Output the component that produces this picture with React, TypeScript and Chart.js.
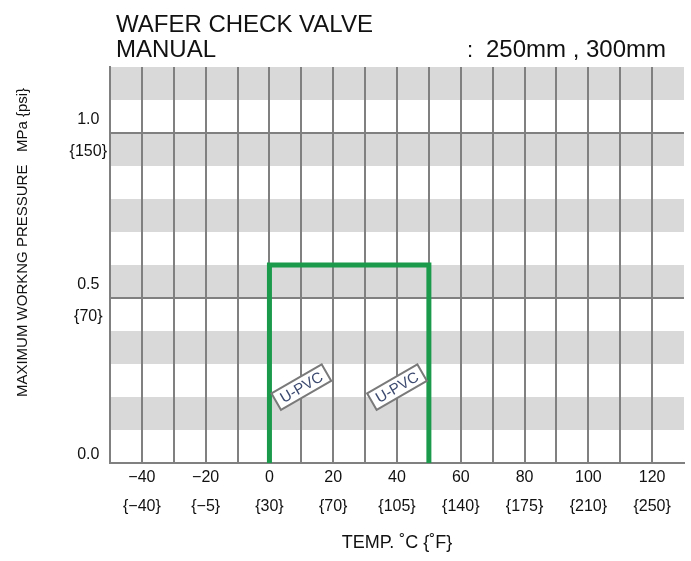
import React, { useEffect, useRef } from 'react';
import { Chart, registerables } from 'chart.js';

Chart.register(...registerables);

// ---- data ----
const tempMin = -50;
const tempMax = 130;
const tempStep = 10;
const tempTickValues = [-40, -20, 0, 20, 40, 60, 80, 100, 120];
const tempLabelsC = ['−40', '−20', '0', '20', '40', '60', '80', '100', '120'];
const tempLabelsF = ['{−40}', '{−5}', '{30}', '{70}', '{105}', '{140}', '{175}', '{210}', '{250}'];

const pressureMin = 0;
const pressureMax = 1.2;
const pressureTicks = [0, 0.5, 1.0];
const pressureLabels = ['0.0', '0.5', '1.0'];
const psiLabels = ['', '{70}', '{150}'];

const bandStarts = [0.1, 0.3, 0.5, 0.7, 0.9, 1.1];
const bandHeight = 0.1;

const envelopeTemp = [0, 0, 50, 50];
const envelopePressure = [0, 0.6, 0.6, 0];

const materialNames = ['U-PVC', 'U-PVC'];
const materialTemp = [10, 40];
const materialPressure = [0.23, 0.23];

const titleLines = ['WAFER CHECK VALVE', 'MANUAL'];
const sizeColon = ':';
const sizeText = '250mm , 300mm';
const yTitle = 'MAXIMUM WORKNG PRESSURE   MPa {psi}';
const xTitle = 'TEMP. ˚C {˚F}';

const FONT = '"Liberation Sans", Arial, sans-serif';
const GRID = '#808080';
const TEXT = '#111111';

const decorPlugin = {
  id: 'decor',
  beforeDraw(chart: any) {
    const { ctx, chartArea: a, scales } = chart;
    const y = scales.y;
    ctx.save();
    ctx.fillStyle = '#d9d9d9';
    bandStarts.forEach((b) => {
      const top = y.getPixelForValue(Math.min(b + bandHeight, pressureMax));
      const bottom = y.getPixelForValue(b);
      ctx.fillRect(a.left, top, a.right - a.left, bottom - top);
    });
    ctx.restore();
  },
  afterDatasetsDraw(chart: any) {
    const { ctx, scales } = chart;
    const xs = scales.x;
    const ys = scales.y;
    materialNames.forEach((name, i) => {
      const px = xs.getPixelForValue(materialTemp[i]);
      const py = ys.getPixelForValue(materialPressure[i]);
      ctx.save();
      ctx.translate(px, py);
      ctx.rotate(-Math.PI / 6);
      ctx.fillStyle = '#ffffff';
      ctx.fillRect(-29, -9.5, 58, 19);
      ctx.strokeStyle = '#7a7a7a';
      ctx.lineWidth = 2;
      ctx.strokeRect(-29, -9.5, 58, 19);
      ctx.fillStyle = '#3c4a70';
      ctx.font = '15px ' + FONT;
      ctx.textAlign = 'center';
      ctx.textBaseline = 'middle';
      ctx.fillText(name, 0, 1);
      ctx.restore();
    });
  },
  afterDraw(chart: any) {
    const { ctx } = chart;
    ctx.save();
    ctx.fillStyle = TEXT;
    ctx.textBaseline = 'alphabetic';
    ctx.textAlign = 'left';
    ctx.font = '24px ' + FONT;
    ctx.fillText(titleLines[0], 116, 32);
    ctx.fillText(titleLines[1], 116, 57);
    ctx.font = '22px ' + FONT;
    ctx.fillText(sizeColon, 467, 57);
    ctx.font = '24px ' + FONT;
    ctx.textAlign = 'right';
    ctx.fillText(sizeText, 666, 57);
    ctx.restore();

    ctx.save();
    ctx.translate(23, 242.5);
    ctx.rotate(-Math.PI / 2);
    ctx.fillStyle = TEXT;
    ctx.font = '15px ' + FONT;
    ctx.textAlign = 'center';
    ctx.textBaseline = 'middle';
    ctx.fillText(yTitle, 0, 0);
    ctx.restore();
  },
};

export default function App() {
  const canvasRef = useRef<HTMLCanvasElement | null>(null);

  useEffect(() => {
    const canvas = canvasRef.current;
    if (!canvas) return;
    Chart.defaults.font.family = FONT;
    const chart = new Chart(canvas, {
      type: 'scatter',
      data: {
        datasets: [
          {
            label: 'U-PVC',
            data: envelopeTemp.map((t, i) => ({ x: t, y: envelopePressure[i] })),
            showLine: true,
            borderColor: '#1b9a4b',
            backgroundColor: '#1b9a4b',
            borderWidth: 5,
            borderJoinStyle: 'miter',
            borderCapStyle: 'butt',
            pointRadius: 0,
            pointHoverRadius: 0,
            tension: 0,
            clip: 10,
          } as any,
        ],
      },
      plugins: [decorPlugin],
      options: {
        animation: false,
        responsive: false,
        devicePixelRatio: 1,
        events: [],
        layout: { padding: { top: 67, right: 7, left: 0, bottom: 0 } },
        plugins: {
          legend: { display: false },
          tooltip: { enabled: false },
          title: { display: false },
        },
        scales: {
          x: {
            type: 'linear',
            min: tempMin,
            max: tempMax,
            ticks: {
              stepSize: tempStep,
              autoSkip: false,
              maxRotation: 0,
              minRotation: 0,
              padding: 0,
              color: TEXT,
              font: { size: 16, lineHeight: '29px' },
              callback: (v: any) => {
                const i = tempTickValues.indexOf(Number(v));
                return i < 0 ? '' : [tempLabelsC[i], tempLabelsF[i]];
              },
            },
            grid: {
              color: (c: any) => (c.tick && c.tick.value === tempMax ? 'rgba(0,0,0,0)' : GRID),
              lineWidth: 2,
              drawTicks: false,
            },
            border: { color: GRID, width: 2 },
            title: {
              display: true,
              text: xTitle,
              color: TEXT,
              font: { size: 18 },
              padding: { top: 0, bottom: 7 },
            },
            afterFit: (s: any) => {
              s.height = 98;
            },
          },
          y: {
            type: 'linear',
            min: pressureMin,
            max: pressureMax,
            afterBuildTicks: (s: any) => {
              s.ticks = pressureTicks.map((v) => ({ value: v }));
            },
            ticks: {
              crossAlign: 'center',
              padding: 3,
              labelOffset: 3,
              color: TEXT,
              font: (c: any) => ({ size: 16, lineHeight: c.index === 0 ? '22px' : '32px' }),
              callback: (v: any) => {
                const i = pressureTicks.indexOf(Number(v));
                return i < 0 ? '' : [pressureLabels[i], psiLabels[i]];
              },
            },
            grid: { color: GRID, lineWidth: 2, drawTicks: false },
            border: { color: GRID, width: 2 },
            afterFit: (s: any) => {
              s.width = 110;
            },
          },
        },
      } as any,
    });
    return () => chart.destroy();
  }, []);

  return (
    <div style={{ position: 'absolute', left: 0, top: 0, width: 691, height: 561 }}>
      <canvas ref={canvasRef} width={691} height={561} />
    </div>
  );
}
